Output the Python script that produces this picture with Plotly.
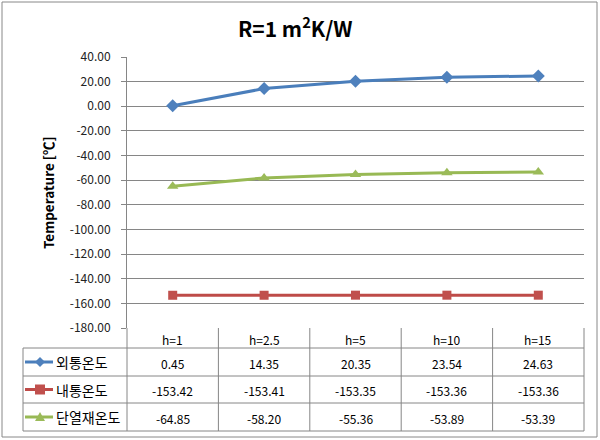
import plotly.graph_objects as go

categories = ["h=1", "h=2.5", "h=5", "h=10", "h=15"]
series_names = ["외통온도", "내통온도", "단열재온도"]
outer_temp = [0.45, 14.35, 20.35, 23.54, 24.63]
inner_temp = [-153.42, -153.41, -153.35, -153.36, -153.36]
insul_temp = [-64.85, -58.20, -55.36, -53.89, -53.39]
y_ticks = [40, 20, 0, -20, -40, -60, -80, -100, -120, -140, -160, -180]
y_tick_labels = ["40.00", "20.00", "0.00", "-20.00", "-40.00", "-60.00", "-80.00",
                 "-100.00", "-120.00", "-140.00", "-160.00", "-180.00"]

series_values = [outer_temp, inner_temp, insul_temp]
line_colors = ["#4A7EBB", "#BE4B48", "#98B954"]
marker_colors = ["#4F81BD", "#C0504D", "#9BBB59"]
symbols = ["diamond", "square", "triangle-up"]

W, H = 600, 440
FONT = "Noto Sans CJK KR, Malgun Gothic, sans-serif"
GRID = "#868686"

PL, PR, PT, PB = 127, 584, 57, 328

def px(x):
    return x / W

def py(y):
    return 1 - y / H

fig = go.Figure()
for name, vals, lc, mc, sym in zip(series_names, series_values, line_colors, marker_colors, symbols):
    fig.add_trace(go.Scatter(
        x=categories, y=vals, name=name, mode="lines+markers",
        line=dict(color=lc, width=3),
        marker=dict(symbol=sym, size=10 if sym != "square" else 9, color=mc, line=dict(width=0)),
        showlegend=False,
    ))

fig.update_layout(
    template="none",
    width=W, height=H,
    margin=dict(l=0, r=0, t=0, b=0, pad=0),
    paper_bgcolor="white", plot_bgcolor="white",
    font=dict(family=FONT, size=12, color="#000000"),
    xaxis=dict(domain=[px(PL), px(PR)], range=[-0.5, len(categories) - 0.5],
               showticklabels=False, showgrid=False, zeroline=False, showline=False,
               ticks="", automargin=False),
    yaxis=dict(domain=[py(PB), py(PT)], range=[-180, 40],
               tickvals=y_ticks, ticktext=y_tick_labels,
               showgrid=True, gridcolor=GRID, gridwidth=1, zeroline=False,
               showline=True, linecolor=GRID, linewidth=1,
               ticks="outside", ticklen=5, tickcolor=GRID, automargin=False,
               ticklabelstandoff=8,
               tickfont=dict(size=12, color="#222222")),
)

shapes = []
annotations = []

annotations.append(dict(text="<b>R=1 m<sup>2</sup>K/W</b>", x=px(295), y=py(27), xref="paper", yref="paper",
                        showarrow=False, font=dict(size=21, family=FONT, color="#000000"),
                        xanchor="center", yanchor="middle"))
annotations.append(dict(text="<b>Temperature [℃]</b>", x=px(48), y=py(193), xref="paper", yref="paper",
                        showarrow=False, textangle=-90, font=dict(size=13.5, family=FONT, color="#000000"),
                        xanchor="center", yanchor="middle"))

row_lines = [328, 348, 376, 403, 431]
n = len(categories)
col_w = (PR - PL) / n
col_edges = [PL + i * col_w for i in range(n + 1)]
TL = 23

def line(x0, y0, x1, y1, color=GRID, w=1):
    shapes.append(dict(type="line", xref="paper", yref="paper",
                       x0=px(x0), y0=py(y0), x1=px(x1), y1=py(y1),
                       line=dict(color=color, width=w)))

line(PL, row_lines[1], PR, row_lines[1])
for yy in row_lines[2:]:
    line(TL, yy, PR, yy)
line(TL, row_lines[1], PL, row_lines[1])
line(TL, row_lines[1], TL, row_lines[-1])
for xx in col_edges:
    line(xx, row_lines[0], xx, row_lines[-1])

for i, c in enumerate(categories):
    annotations.append(dict(text=c, x=px((col_edges[i] + col_edges[i + 1]) / 2),
                            y=py((row_lines[0] + row_lines[1]) / 2 + 1),
                            xref="paper", yref="paper", showarrow=False,
                            font=dict(size=12, family=FONT, color="#000000"),
                            xanchor="center", yanchor="middle"))

for r, (name, vals, lc, mc, sym) in enumerate(zip(series_names, series_values, line_colors, marker_colors, symbols)):
    yc = (row_lines[r + 1] + row_lines[r + 2]) / 2
    for i, v in enumerate(vals):
        annotations.append(dict(text=f"{v:.2f}", x=px((col_edges[i] + col_edges[i + 1]) / 2),
                                y=py(yc + 1), xref="paper", yref="paper", showarrow=False,
                                font=dict(size=12, family=FONT, color="#000000"),
                                xanchor="center", yanchor="middle"))
    annotations.append(dict(text=name, x=px(54), y=py(yc), xref="paper", yref="paper",
                            showarrow=False, font=dict(size=14, family=FONT, color="#000000"),
                            xanchor="left", yanchor="middle"))
    line(25, yc, 53, yc, color=lc, w=3)
    cx, s = 40, 5
    if sym == "diamond":
        path = f"M {px(cx-s)} {py(yc)} L {px(cx)} {py(yc-s)} L {px(cx+s)} {py(yc)} L {px(cx)} {py(yc+s)} Z"
    elif sym == "square":
        path = f"M {px(cx-s)} {py(yc-s)} L {px(cx+s)} {py(yc-s)} L {px(cx+s)} {py(yc+s)} L {px(cx-s)} {py(yc+s)} Z"
    else:
        path = f"M {px(cx-s)} {py(yc+s-1)} L {px(cx+s)} {py(yc+s-1)} L {px(cx)} {py(yc-s)} Z"
    shapes.append(dict(type="path", xref="paper", yref="paper", path=path,
                       fillcolor=mc, line=dict(width=0)))

shapes.append(dict(type="rect", xref="paper", yref="paper",
                   x0=px(2), y0=py(437), x1=px(597), y1=py(2),
                   line=dict(color="#888888", width=1)))

fig.update_layout(shapes=shapes, annotations=annotations)
fig.write_html("out.html", config={"displayModeBar": False},
               post_script="document.body.style.margin='0';document.body.style.overflow='hidden';")
